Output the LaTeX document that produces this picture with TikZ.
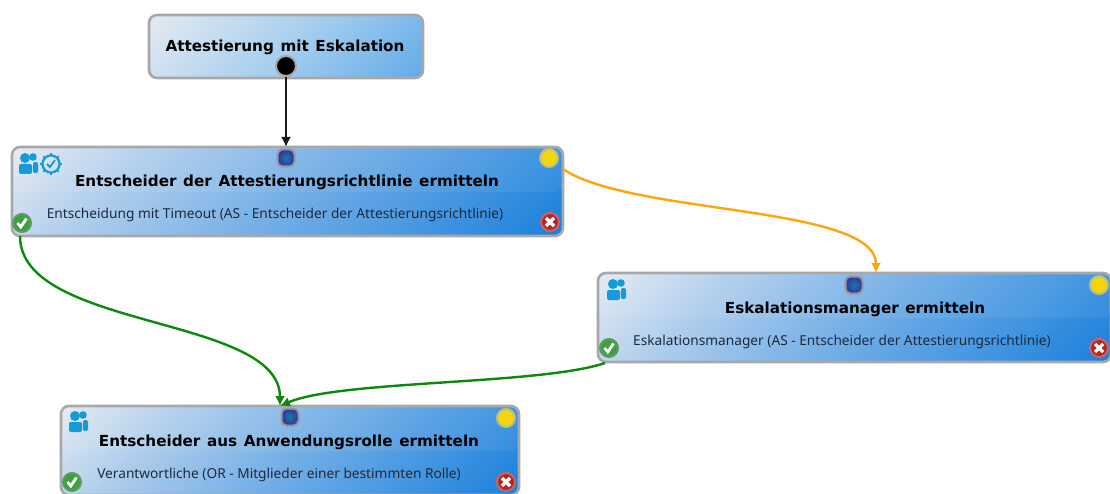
\documentclass[tikz,border=0pt]{standalone}
\usepackage{fontspec}
\setmainfont{Noto Sans}
\newfontfamily\titlefont[WordSpace=1.25]{DejaVu Sans}
\usetikzlibrary{arrows.meta}
\definecolor{frame}{HTML}{A6A8AB}
\definecolor{txt}{HTML}{1C2A3F}
\definecolor{iconblue}{HTML}{169AD8}
\definecolor{okgreen}{HTML}{0C880C}
\definecolor{esc}{HTML}{FFA50F}
\definecolor{gA}{HTML}{E4EAF1}
\definecolor{gAB}{HTML}{B0CEEC}
\definecolor{gB}{HTML}{76B0E6}
\definecolor{gC}{HTML}{1A80DC}
\definecolor{gD}{HTML}{A8CFEE}
\definecolor{gE}{HTML}{62ABE8}
\pgfdeclareverticalshading{taskshade}{100bp}{color(0bp)=(gC); color(14.6bp)=(gC); color(50bp)=(gB); color(70bp)=(gAB); color(85.4bp)=(gA); color(100bp)=(gA)}
\pgfdeclareverticalshading{startshade}{100bp}{color(0bp)=(gE); color(14.6bp)=(gE); color(50bp)=(gD); color(85.4bp)=(gA); color(100bp)=(gA)}
\tikzset{
 x=1pt,y=-1pt,
 taskbox/.style={draw=frame,line width=2.6pt,rounded corners=8pt,minimum height=89pt,inner sep=0pt,outer sep=0pt,anchor=north west,shading=taskshade,shading angle=45},
 startbox/.style={taskbox,minimum height=63pt,shading=startshade},
 title/.style={font=\titlefont\bfseries\fontsize{15.2}{18}\selectfont,text=black,inner sep=0pt},
 subtitle/.style={font=\fontsize{13.7}{15}\selectfont,text=txt,inner sep=0pt},
 port/.style={circle,line width=2pt,minimum size=18pt,inner sep=0pt},
 inport/.style={port,rectangle,rounded corners=5pt,minimum size=17pt,draw=frame!90!black,shading=radial,inner color=blue!30!cyan!60!black!90,outer color=blue!55!black!80},
 startport/.style={port,draw=frame,fill=black,minimum size=20pt},
 yellowport/.style={port,draw=frame!75!yellow,fill=yellow!80!orange!95!black},
 okport/.style={port,draw=frame!70!green!80!black,fill=green!50!black!75!white},
 failport/.style={port,draw=frame!60!red,fill=red!65!black!85},
 conn/.style={line width=2.4pt,-{Latex[length=10pt,width=10pt]}},
 pics/usericon/.style={code={
   \fill[iconblue] (-3,-6) circle (5pt);
   \fill[iconblue] (5,-7) circle (3.8pt);
   \fill[iconblue,rounded corners=2pt] (-9,10) -- (-9,0) -- (4,0) -- (4,10) -- cycle;
   \fill[iconblue,rounded corners=2pt] (5,9) -- (5,-2) -- (10,-2) -- (10,9) -- cycle;
 }},
 pics/clockicon/.style={code={
   \draw[iconblue,line width=2.2pt] (0,0) circle (8.6pt);
   \foreach \a in {0,45,...,315} \draw[iconblue,line width=1.6pt] (\a:8.6) -- (\a:11);
   \draw[iconblue,line width=1.8pt] (-4,0) -- (-1,3) -- (4,-4);
 }},
 pics/okmark/.style={code={\draw[white,line width=2.8pt] (-4.5,0) -- (-1.2,4) -- (4.5,-4.5);}},
 pics/failmark/.style={code={\draw[white,line width=3.2pt] (-4,-4) -- (4,4) (4,-4) -- (-4,4);}},
 gloss/.style={fill=white,fill opacity=.06,rounded corners=7pt},
}
\begin{document}
\begin{tikzpicture}
\useasboundingbox (0,0) rectangle (1110,494);
% boxes
\node[startbox,minimum width=274pt] (start) at (149,15) {};
\node[taskbox,minimum width=551pt] (e1) at (12,147) {};
\node[taskbox,minimum width=513pt] (e2) at (598,273) {};
\node[taskbox,minimum width=458pt] (e3) at (61,406) {};
% upper, lighter half of the task boxes
\fill[gloss] (13,192) -- (13,148) -- (562,148) -- (562,192) [sharp corners] -- cycle;
\fill[gloss] (599,318) -- (599,274) -- (1110,274) -- (1110,318) [sharp corners] -- cycle;
\fill[gloss] (62,451) -- (62,407) -- (518,407) -- (518,451) [sharp corners] -- cycle;
% text
\node[title] (t0) at (285,47) {Attestierung mit Eskalation};
\node[title] (t1) at (287,182) {Entscheider der Attestierungsrichtlinie ermitteln};
\node[subtitle] (s1) at (275,215) {Entscheidung mit Timeout (AS - Entscheider der Attestierungsrichtlinie)};
\node[title] (t2) at (855,309) {Eskalationsmanager ermitteln};
\node[subtitle] (s2) at (842,342) {Eskalationsmanager (AS - Entscheider der Attestierungsrichtlinie)};
\node[title] (t3) at (289,442) {Entscheider aus Anwendungsrolle ermitteln};
\node[subtitle] (s3) at (279,475) {Verantwortliche (OR - Mitglieder einer bestimmten Rolle)};
% ports
\node[startport] (p0) at (286,66) {};
\node[inport] (in1) at (286,158) {};
\node[inport] (in2) at (854,285) {};
\node[inport] (in3) at (290,417) {};
\node[yellowport] (y1) at (549,158) {};
\node[yellowport] (y2) at (1099,285) {};
\node[yellowport] (y3) at (506,418) {};
\node[okport] (g1) at (22,223) {};
\node[okport] (g2) at (609,348) {};
\node[okport] (g3) at (72,482) {};
\node[failport] (r1) at (550,222) {};
\node[failport] (r2) at (1099,348) {};
\node[failport] (r3) at (506,482) {};
\foreach \n in {g1,g2,g3} \pic at (\n) {okmark};
\foreach \n in {r1,r2,r3} \pic at (\n) {failmark};
% icons
\pic at (28,164) {usericon};
\pic at (51,164) {clockicon};
\pic at (616,290) {usericon};
\pic at (78,422) {usericon};
% connectors
\coordinate (a1) at (286,147);
\coordinate (a2) at (876,273);
\coordinate (a3) at (280,406);
\coordinate (o1) at (563,169);
\coordinate (g1e) at (20,236);
\coordinate (g2e) at (605,363);
\draw[conn,black!90] (p0) -- (a1);
\draw[conn,esc] (o1) .. controls (630,215) and (876,205) .. (a2);
\draw[conn,okgreen] (g1e) .. controls (20,330) and (280,315) .. (a3);
\draw[conn,okgreen] (g2e) .. controls (540,385) and (340,380) .. (a3);
\end{tikzpicture}
\end{document}
